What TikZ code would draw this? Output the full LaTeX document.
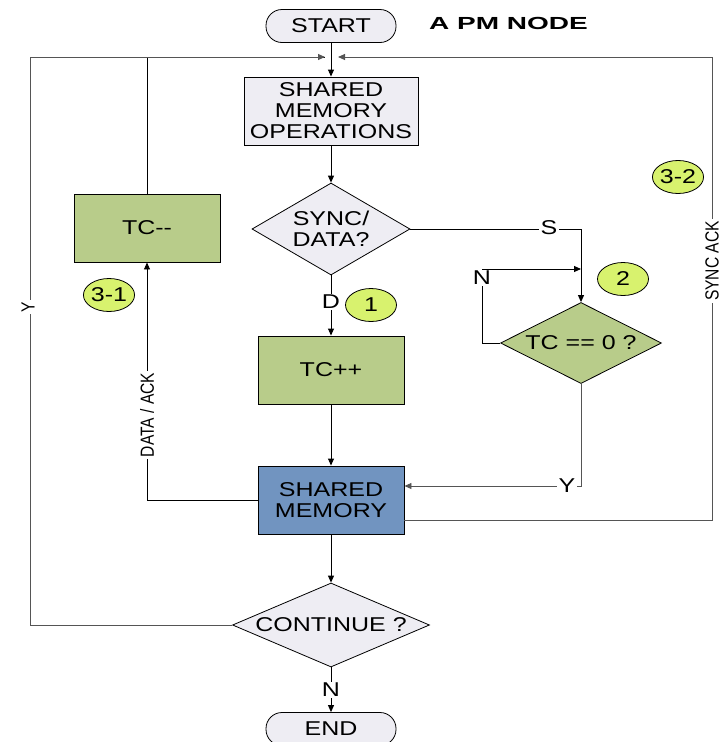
\documentclass[tikz,border=0pt]{standalone}
\usepackage{fontspec}
\setmainfont{Liberation Sans}[FakeStretch=1.25]
\newfontfamily\titlefont{Liberation Sans}[FakeStretch=1.6]
\newfontfamily\sidefont{Liberation Sans}[FakeStretch=0.82]
\usetikzlibrary{shapes.geometric,arrows.meta}

\definecolor{opgray}{HTML}{EEEDF3}
\definecolor{olive}{HTML}{B8CC8A}
\definecolor{memblue}{HTML}{7194C0}
\definecolor{tagfill}{HTML}{D8F26E}
\definecolor{wire}{HTML}{555555}

\begin{document}
\begin{tikzpicture}[x=1pt,y=-1pt,
  every node/.style={font=\fontsize{20}{21}\selectfont, inner sep=0pt},
  flow/.style={draw=black, line width=0.9pt},
  arr/.style={flow, -{Triangle[length=7pt,width=6pt]}},
  pill/.style={draw, line width=0.8pt, fill=opgray, rounded corners=16pt,
    minimum width=130pt, minimum height=33pt},
  box/.style={draw, line width=0.9pt, minimum width=146pt, minimum height=68pt},
  dia/.style={diamond, draw, line width=0.8pt, inner sep=0pt},
  tagell/.style={ellipse, draw, line width=0.8pt, fill=tagfill,
    minimum width=51pt, minimum height=33pt},
  lab/.style={fill=white, inner sep=1.5pt},
  side/.style={fill=white, inner sep=2pt, rotate=90,
    font=\sidefont\fontsize{19}{20}\selectfont}]

\useasboundingbox (0,0) rectangle (725,742);

% main column
\node[pill] (start) at (331,26) {START};
\node[font=\titlefont\bfseries\fontsize{17.5}{19}\selectfont, anchor=west] (title) at (429,23) {A PM NODE};
\node[box, fill=opgray, minimum width=174pt, align=center] (ops) at (331,111) {SHARED\\MEMORY\\OPERATIONS};
\node[dia, fill=opgray, minimum width=158pt, minimum height=92pt] (sync) at (331,229) {};
\node[align=center] (synct) at (331,229) {SYNC/\\DATA?};
\node[box, fill=olive] (tcp) at (331,370) {TC++};
\node[box, fill=memblue, align=center] (shm) at (331,500) {SHARED\\MEMORY};
\node[dia, fill=opgray, minimum width=197pt, minimum height=84pt] (cont) at (331,625) {};
\node (contt) at (331,625) {CONTINUE ?};
\node[pill] (end) at (331,729) {END};

% side blocks
\node[box, fill=olive] (tcm) at (147,228) {TC-{}-};
\node[dia, fill=olive, minimum width=161pt, minimum height=81pt] (tcz) at (581,343) {};
\node (tczt) at (581,343) {TC == 0 ?};

% junction points on the top bus
\coordinate (joinL) at (325,57);
\coordinate (joinR) at (338,57);
\coordinate (ycorner) at (30,57);
\coordinate (sackcorner) at (712,57);
\coordinate (nturn) at (482,269);
\coordinate (nend) at (581,269);

% connectors
\draw[arr] (start) -- (ops);
\draw[arr] (ops) -- (sync);
\draw[arr] (sync) -- (tcp);
\draw[arr] (tcp) -- (shm);
\draw[arr] (shm) -- (cont);
\draw[arr] (cont) -- (end);
\draw[arr] (sync.east) -| (tcz.north);
\draw[arr] (tcz.west) -| (nturn) -- (nend);
\draw[arr, draw=wire] (tcz.south) |- (shm.east |- 0,486);
\draw[arr] (shm.west) -| (tcm.south);
\draw[flow] (tcm.north) |- (joinL);
\draw[arr, draw=wire] (cont.west) -| (ycorner) -- (joinL);
\draw[arr, draw=wire] (shm.east |- 0,520) -| (sackcorner) -- (joinR);

% branch labels
\node[lab] (dlab) at (331,302) {D};
\node[lab] (slab) at (549,228) {S};
\node[lab] (nlab) at (482,278) {N};
\node[lab] (ylab2) at (567,486) {Y};
\node[lab] (nlab2) at (331,690) {N};
\node[side] (ylab) at (28,307) {Y};
\node[side] (dalab) at (147,415) {DATA / ACK};
\node[side] (salab) at (712,261) {SYNC ACK};

% step tags
\node[tagell] (t1) at (371,305) {1};
\node[tagell] (t2) at (623,279) {2};
\node[tagell] (t31) at (109,295) {3-1};
\node[tagell] (t32) at (678,177) {3-2};
\end{tikzpicture}
\end{document}
